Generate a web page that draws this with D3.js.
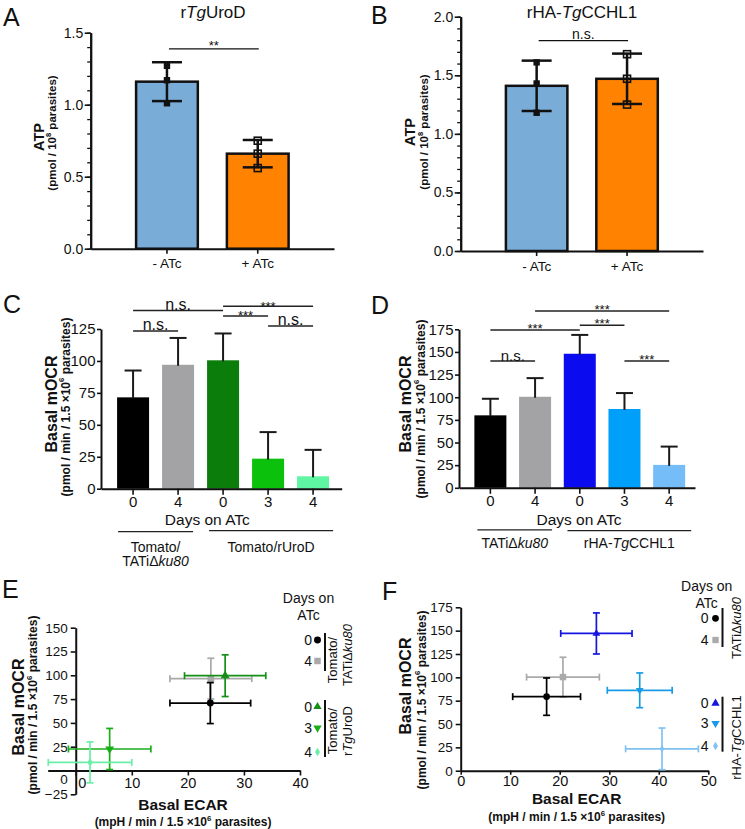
<!DOCTYPE html>
<html><head><meta charset="utf-8">
<script src="https://cdn.jsdelivr.net/npm/d3@7"></script>
<style>
body{margin:0;background:#fff}
svg{font-family:"Liberation Sans",Arial,Helvetica,sans-serif;background:#fff}
</style></head><body>
<svg id="chart" width="745" height="829"></svg>
<script>
// ---------------- DATA ----------------
const atpCats = ["- ATc", "+ ATc"];
const atpColors = ["#7aacd8", "#ff8200"];
const aMeans = [1.16, 0.66];
const aSD = [0.135, 0.095];
const aPoints = [[1.27, 1.17, 1.01], [0.75, 0.66, 0.56]];
const aTicks = [0, 0.5, 1.0, 1.5];
const bMeans = [1.41, 1.47];
const bSD = [0.215, 0.215];
const bPoints = [[1.61, 1.43, 1.18], [1.68, 1.47, 1.25]];
const bTicks = [0, 0.5, 1.0, 1.5, 2.0];

const dayLabels = ["0", "4", "0", "3", "4"];
const cMeans = [71.5, 97, 100.5, 23.5, 9.7];
const cErr = [21, 21, 21, 20.8, 20.7];
const cColors = ["#000000", "#a3a3a6", "#0b7d0b", "#0cc10c", "#5ef5a3"];
const cTicks = [0, 25, 50, 75, 100, 125];
const cSig = [[0, 1, 123.5, "n.s."], [0, 2, 139.4, "n.s."], [2, 4, 142.8, "***"], [2, 3, 135.2, "***"], [3, 4, 127.4, "n.s."]];
const dMeans = [80, 100.5, 148, 87, 25.3];
const dErr = [18.3, 20.6, 20.8, 17.6, 20.2];
const dColors = ["#000000", "#a3a3a6", "#0b0bef", "#00a0fa", "#75bdf9"];
const dTicks = [0, 25, 50, 75, 100, 125, 150, 175];
const dSig = [[0, 1, 140, "n.s."], [0, 2, 174.2, "***"], [2, 3, 179.4, "***"], [1, 4, 195.2, "***"], [3, 4, 140, "***"]];

const shapes = ["circle", "square", "triUp", "triDown", "diamond"];
const eX = [24, 24.1, 26.65, 6.05, 2.55];
const eY = [70.8, 96.5, 99.6, 22.6, 8.5];
const eXErr = [7.2, 7.3, 7.25, 7.35, 7.45];
const eYErr = [21.5, 21.4, 21.9, 21.6, 21.5];
const eColors = ["#000000", "#a9a9a9", "#178f17", "#1aad1a", "#6aeea8"];
const eXTicks = [0, 10, 20, 30, 40];
const eYTicks = [-25, 0, 25, 50, 75, 100, 125, 150];
const fX = [17.35, 20.65, 27.4, 36.15, 40.65];
const fY = [79.3, 100.25, 147, 86.1, 23.4];
const fXErr = [6.85, 7.35, 7.2, 6.55, 7.35];
const fYErr = [20, 21.25, 22, 18.6, 22.3];
const fColors = ["#000000", "#aaaaaa", "#1515e0", "#1a9be8", "#80c2f2"];
const fXTicks = [0, 10, 20, 30, 40, 50];
const fYTicks = [0, 25, 50, 75, 100, 125, 150, 175];

// ---------------- HELPERS ----------------
const svg = d3.select("#chart");
const INK = "#111";

function addText(g, x, y, parts, o = {}) {
  const fs = o.fs || 14;
  const t = g.append("text").attr("x", x).attr("y", y)
    .attr("font-size", fs).attr("text-anchor", o.anchor || "middle")
    .attr("font-weight", o.bold ? "bold" : "normal").attr("fill", INK);
  if (o.rot) t.attr("transform", `rotate(${o.rot},${x},${y})`);
  if (o.central) t.attr("dominant-baseline", "central");
  if (typeof parts === "string") parts = [{t: parts}];
  let prevSup = false;
  parts.forEach(p => {
    const ts = t.append("tspan").text(p.t);
    if (p.i) ts.attr("font-style", "italic");
    if (p.sup) { ts.attr("dy", -0.35 * fs).attr("font-size", 0.65 * fs); prevSup = true; }
    else if (prevSup) { ts.attr("dy", 0.35 * fs); prevSup = false; }
  });
  return t;
}

function styleAxis(a, fs, dw = 2, tw = 1.6) {
  a.select(".domain").attr("stroke", INK).attr("stroke-width", dw);
  a.selectAll(".tick line").attr("stroke", INK).attr("stroke-width", tw);
  a.selectAll(".tick text").attr("font-size", fs).attr("fill", INK);
  a.attr("font-family", null).attr("font-size", null);
}

function symPath(shape, size) {
  const types = {circle: d3.symbolCircle, square: d3.symbolSquare, triUp: d3.symbolTriangle, triDown: d3.symbolTriangle, diamond: d3.symbolDiamond};
  return d3.symbol().type(types[shape]).size(size)();
}
function drawSym(g, shape, cx, cy, size, color) {
  g.append("path").attr("d", symPath(shape, size))
    .attr("transform", `translate(${cx},${cy})` + (shape === "triDown" ? " rotate(180)" : ""))
    .attr("fill", color);
}

const yTitleParts = [{t: "(pmol / min / 1.5 ×10"}, {t: "6", sup: true}, {t: " parasites)"}];
const xTitleParts = [{t: "(mpH / min / 1.5 ×10"}, {t: "6", sup: true}, {t: " parasites)"}];

// ---------------- ATP PANELS (A, B) ----------------
function atpPanel(c) {
  const g = svg.append("g");
  const y = d3.scaleLinear().domain([0, c.ymax]).range([c.y0, c.y1]);
  const x = d3.scaleBand().domain(atpCats).range([c.x0, c.x1]).paddingInner(0.32).paddingOuter(0.5);
  const minor = g.append("g").attr("transform", `translate(${c.x0},0)`)
    .call(d3.axisLeft(y).tickValues(d3.range(0, c.ymax + 1e-6, 0.1)).tickSize(3.5).tickFormat("").tickSizeOuter(0));
  styleAxis(minor, 14, 2, 1.3);
  const ya = g.append("g").attr("transform", `translate(${c.x0},0)`)
    .call(d3.axisLeft(y).tickValues(c.ticks).tickFormat(d3.format(".1f")).tickSize(6).tickPadding(1.5).tickSizeOuter(0));
  styleAxis(ya, 14, 2, 1.6);
  const xa = g.append("g").attr("transform", `translate(0,${c.y0})`)
    .call(d3.axisBottom(x).tickSize(5).tickPadding(5).tickSizeOuter(0));
  styleAxis(xa, 13.5, 2, 1.6);

  const bw = x.bandwidth();
  atpCats.forEach((cat, i) => {
    const cx = x(cat) + bw / 2;
    g.append("rect").attr("x", x(cat)).attr("y", y(c.means[i])).attr("width", bw)
      .attr("height", c.y0 - y(c.means[i])).attr("fill", atpColors[i]).attr("stroke", INK).attr("stroke-width", 2.5);
    const lo = y(c.means[i] - c.sd[i]), hi = y(c.means[i] + c.sd[i]);
    g.append("line").attr("x1", cx).attr("x2", cx).attr("y1", lo).attr("y2", hi).attr("stroke", INK).attr("stroke-width", 2.5);
    [lo, hi].forEach(v => g.append("line").attr("x1", cx - 15).attr("x2", cx + 15).attr("y1", v).attr("y2", v).attr("stroke", INK).attr("stroke-width", 2.5));
    c.points[i].forEach(p => {
      if (i === 0) g.append("rect").attr("x", cx - 3.2).attr("y", y(p) - 3.2).attr("width", 6.4).attr("height", 6.4).attr("fill", INK);
      else g.append("rect").attr("x", cx - 3.5).attr("y", y(p) - 3.5).attr("width", 7).attr("height", 7).attr("fill", "none").attr("stroke", INK).attr("stroke-width", 1.6);
    });
  });
  const sx1 = x(atpCats[0]) + bw / 2 + 2, sx2 = x(atpCats[1]) + bw / 2 + 1;
  g.append("line").attr("x1", sx1).attr("x2", sx2).attr("y1", y(c.sigY)).attr("y2", y(c.sigY)).attr("stroke", INK).attr("stroke-width", 1.2);
  addText(g, (sx1 + sx2) / 2, y(c.sigY) + c.sigDy, c.sig, {fs: c.sigFs});
  addText(g, c.titleX, 18, c.title, {fs: 17});
  addText(g, c.atpX, c.atpY, "ATP", {fs: 14.5, bold: true, rot: -90, central: true});
  addText(g, c.parX, c.parY, [{t: "(pmol / 10"}, {t: "8", sup: true}, {t: " parasites)"}], {fs: 11.5, bold: true, rot: -90, central: true});
  addText(g, c.letterX, c.letterY, c.letter, {fs: 25, anchor: "start"});
}

atpPanel({x0: 90.7, x1: 334, y0: 248.7, y1: 32.7, ymax: 1.5, ticks: aTicks, means: aMeans, sd: aSD, points: aPoints,
  sigY: 1.388, sig: "**", sigFs: 13, sigDy: 1.5, title: [{t: "r"}, {t: "Tg", i: true}, {t: "UroD"}], titleX: 213,
  atpX: 39, atpY: 137, parX: 52, parY: 133, letter: "A", letterX: 3, letterY: 26});
atpPanel({x0: 460.7, x1: 703, y0: 251, y1: 16.7, ymax: 2.0, ticks: bTicks, means: bMeans, sd: bSD, points: bPoints,
  sigY: 1.795, sig: "n.s.", sigFs: 14, sigDy: -2, title: [{t: "rHA-"}, {t: "Tg", i: true}, {t: "CCHL1"}], titleX: 582,
  atpX: 410, atpY: 132, parX: 424, parY: 132, letter: "B", letterX: 371, letterY: 24});

// ---------------- OCR BAR PANELS (C, D) ----------------
function ocrPanel(c) {
  const g = svg.append("g");
  const idx = d3.range(dayLabels.length);
  const y = d3.scaleLinear().domain([0, c.ymax]).range([c.y0, c.y1]);
  const x = d3.scaleBand().domain(idx).range([c.x0, c.x1]).paddingInner(c.pi).paddingOuter(c.po).align(c.align);
  const bw = x.bandwidth();
  idx.forEach(i => {
    g.append("rect").attr("x", x(i)).attr("y", y(c.means[i])).attr("width", bw)
      .attr("height", c.y0 - y(c.means[i])).attr("fill", c.colors[i]);
    const cx = x(i) + bw / 2, top = y(c.means[i] + c.err[i]);
    g.append("line").attr("x1", cx).attr("x2", cx).attr("y1", y(c.means[i]) + 1).attr("y2", top).attr("stroke", "#1a1a1a").attr("stroke-width", 2);
    g.append("line").attr("x1", cx - 8.5).attr("x2", cx + 8.5).attr("y1", top).attr("y2", top).attr("stroke", "#1a1a1a").attr("stroke-width", 2);
  });
  const ya = g.append("g").attr("transform", `translate(${c.x0},0)`)
    .call(d3.axisLeft(y).tickValues(c.ticks).tickSize(4).tickPadding(1.5).tickSizeOuter(0));
  styleAxis(ya, 15, 2, 1.6);
  const xa = g.append("g").attr("transform", `translate(0,${c.y0})`)
    .call(d3.axisBottom(x).tickFormat(i => dayLabels[i]).tickSize(6).tickPadding(2).tickSizeOuter(0));
  styleAxis(xa, 15, 2, 1.6);

  c.sig.forEach(([a, b, lv, lab]) => {
    const x1 = x(a) + bw / 2, x2 = x(b) + bw / 2, yy = y(lv);
    g.append("line").attr("x1", x1).attr("x2", x2).attr("y1", yy).attr("y2", yy).attr("stroke", "#222").attr("stroke-width", 1.5);
    if (lab === "n.s.") addText(g, (x1 + x2) / 2, yy - 0.5, lab, {fs: c.nsFs});
    else addText(g, (x1 + x2) / 2, yy + c.astDy, lab, {fs: 13});
  });

  addText(g, (c.x0 + c.x1) / 2 + c.daysDx, c.daysY, "Days on ATc", {fs: 15.5});
  c.groups.forEach(gr => {
    const gx1 = x(gr.from) + gr.d1, gx2 = x(gr.to) + bw + gr.d2;
    g.append("line").attr("x1", gx1).attr("x2", gx2).attr("y1", gr.y).attr("y2", gr.y).attr("stroke", "#222").attr("stroke-width", 1.3);
    gr.lines.forEach((ln, k) => addText(g, (gx1 + gx2) / 2, gr.ty + k * 14.5, ln, {fs: 14}));
  });
  addText(g, c.tX, c.tY, "Basal mOCR", {fs: 16, bold: true, rot: -90, central: true});
  addText(g, c.pX, c.pY, yTitleParts, {fs: 12, bold: true, rot: -90, central: true});
  addText(g, c.letterX, c.letterY, c.letter, {fs: 25, anchor: "start"});
}

ocrPanel({x0: 101, x1: 341.7, y0: 488.7, y1: 329, ymax: 125, pi: 0.289, po: 0.319, align: 0.56,
  means: cMeans, err: cErr, colors: cColors, ticks: cTicks, sig: cSig, nsFs: 16, astDy: 4.5,
  daysDx: -14, daysY: 525,
  groups: [
    {from: 0, to: 1, d1: 1, d2: -1, y: 531.7, ty: 551.7, lines: ["Tomato/", [{t: "TATiΔ"}, {t: "ku80", i: true}]]},
    {from: 2, to: 4, d1: 2, d2: 4, y: 530.7, ty: 551.7, lines: ["Tomato/rUroD"]}],
  tX: 50.5, tY: 404, pX: 65.5, pY: 407, letter: "C", letterX: 3, letterY: 313});
ocrPanel({x0: 459, x1: 695, y0: 487.8, y1: 329.3, ymax: 175, pi: 0.284, po: 0.282, align: 0.61,
  means: dMeans, err: dErr, colors: dColors, ticks: dTicks, sig: dSig, nsFs: 15, astDy: 2.5,
  daysDx: 2, daysY: 524.5,
  groups: [
    {from: 0, to: 1, d1: 3, d2: 1, y: 529.8, ty: 548, lines: [[{t: "TATiΔ"}, {t: "ku80", i: true}]]},
    {from: 2, to: 4, d1: 3.7, d2: 6, y: 530.7, ty: 548, lines: [[{t: "rHA-"}, {t: "Tg", i: true}, {t: "CCHL1"}]]}],
  tX: 405, tY: 404, pX: 420.5, pY: 409, letter: "D", letterX: 371, letterY: 314});

// ---------------- SCATTER PANELS (E, F) ----------------
function scatterPanel(c) {
  const g = svg.append("g");
  const x = d3.scaleLinear().domain(c.xDom).range(c.xRange);
  const y = d3.scaleLinear().domain(c.yDom).range(c.yRange);
  const ya = g.append("g").attr("transform", `translate(${x(0)},0)`)
    .call(d3.axisLeft(y).tickValues(c.yTicks).tickSize(5).tickPadding(3).tickSizeOuter(0));
  styleAxis(ya, 13.5, 2, 1.6);
  const xa = g.append("g").attr("transform", `translate(0,${y(0)})`)
    .call(d3.axisBottom(x).tickValues(c.xTicks).tickSize(c.xTs).tickPadding(c.xTp).tickSizeOuter(0));
  styleAxis(xa, 14.5, 2, 1.6);
  if (c.shiftZero) {
    ya.selectAll(".tick").filter(d => d === 0).select("text").attr("dy", "0.95em");
    xa.selectAll(".tick").filter(d => d === 0).select("text").attr("dx", 6);
  }
  const cap = 3.5;
  [1, 0, 2, 3, 4].forEach(i => {
    const cx = x(c.X[i]), cy = y(c.Y[i]), col = c.colors[i];
    const xl = x(c.X[i] - c.XE[i]), xr = x(c.X[i] + c.XE[i]);
    const yt = y(c.Y[i] + c.YE[i]), yb = y(c.Y[i] - c.YE[i]);
    const ln = (a, b, cc, d) => g.append("line").attr("x1", a).attr("y1", b).attr("x2", cc).attr("y2", d).attr("stroke", col).attr("stroke-width", 1.7);
    ln(xl, cy, xr, cy); ln(xl, cy - cap, xl, cy + cap); ln(xr, cy - cap, xr, cy + cap);
    ln(cx, yt, cx, yb); ln(cx - cap, yt, cx + cap, yt); ln(cx - cap, yb, cx + cap, yb);
    drawSym(g, shapes[i], cx, cy, c.symSizes[i], col);
  });
  addText(g, c.lgX, c.lgY1, "Days on", {fs: 14});
  addText(g, c.lgX, c.lgY2, "ATc", {fs: 14});
  c.rows.forEach((ry, i) => {
    addText(g, c.rowTextX, ry + 5, dayLabels[i], {fs: 14, anchor: "end"});
    drawSym(g, shapes[i], c.rowSymX, ry, c.legSizes[i], c.colors[i]);
  });
  c.legGroups.forEach(lg => {
    g.append("line").attr("x1", c.lineX).attr("x2", c.lineX).attr("y1", lg.y1).attr("y2", lg.y2).attr("stroke", INK).attr("stroke-width", 2);
    lg.texts.forEach(tt => addText(g, tt.x, tt.y, tt.parts, {fs: 13, rot: -90, central: true}));
  });
  addText(g, c.tX, c.tY, "Basal mOCR", {fs: 16, bold: true, rot: -90, central: true});
  addText(g, c.pX, c.pY, yTitleParts, {fs: 12, bold: true, rot: -90, central: true});
  addText(g, c.xtX, c.xtY, "Basal ECAR", {fs: 15.5, bold: true});
  addText(g, c.xtX, c.xpY, xTitleParts, {fs: 12, bold: true});
  addText(g, c.letterX, c.letterY, c.letter, {fs: 25, anchor: "start"});
}

scatterPanel({xDom: [-5, 40], xRange: [47.7, 300], yDom: [-25, 150], yRange: [794.3, 627.7],
  xTicks: eXTicks, yTicks: eYTicks, xTs: 5, xTp: 2.5, shiftZero: true,
  X: eX, Y: eY, XE: eXErr, YE: eYErr, colors: eColors, symSizes: [38, 45, 34, 34, 24], legSizes: [38, 42, 30, 30, 22],
  lgX: 308.5, lgY1: 603, lgY2: 619.5, rows: [640, 661, 706.7, 728, 752], rowTextX: 312, rowSymX: 317.5, lineX: 325,
  legGroups: [
    {y1: 633, y2: 671, texts: [{x: 332, y: 660, parts: "Tomato/"}, {x: 346.5, y: 655, parts: [{t: "TATiΔ"}, {t: "ku80", i: true}]}]},
    {y1: 700, y2: 757, texts: [{x: 332, y: 731, parts: "Tomato/"}, {x: 346.5, y: 731, parts: [{t: "r"}, {t: "Tg", i: true}, {t: "UroD"}]}]}],
  tX: 17.5, tY: 707, pX: 33, pY: 705, xtX: 183, xtY: 809.5, xpY: 825.5, letter: "E", letterX: 2, letterY: 598});

scatterPanel({xDom: [0, 50], xRange: [460.7, 708.3], yDom: [0, 175], yRange: [770.7, 607.3],
  xTicks: fXTicks, yTicks: fYTicks, xTs: 4, xTp: 1.5, shiftZero: false,
  X: fX, Y: fY, XE: fXErr, YE: fYErr, colors: fColors, symSizes: [34, 42, 26, 26, 18], legSizes: [36, 40, 30, 30, 22],
  lgX: 706.7, lgY1: 591, lgY2: 607.5, rows: [618.3, 640, 703.3, 723.3, 746], rowTextX: 708.5, rowSymX: 715.5, lineX: 722.5,
  legGroups: [
    {y1: 608, y2: 647, texts: [{x: 735.5, y: 628, parts: [{t: "TATiΔ"}, {t: "ku80", i: true}]}]},
    {y1: 696.7, y2: 751.7, texts: [{x: 735.5, y: 737.5, parts: [{t: "rHA-"}, {t: "Tg", i: true}, {t: "CCHL1"}]}]}],
  tX: 405, tY: 686, pX: 421.5, pY: 700, xtX: 576.7, xtY: 804, xpY: 820.5, letter: "F", letterX: 382, letterY: 600});
</script>
</body></html>
